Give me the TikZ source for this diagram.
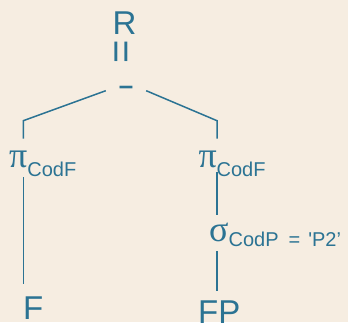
\documentclass[tikz,border=0pt]{standalone}
\usepackage{fontspec}
\setmainfont{Liberation Sans}
\newfontfamily\grkfont{Liberation Serif}
\usepackage{tikz}
\usepackage{xcolor}
\usetikzlibrary{calc}

\definecolor{paper}{HTML}{F6EDE1}
\definecolor{ink}{HTML}{2B7393}

\newcommand{\bigf}{\fontsize{33}{33}\selectfont}
\newcommand{\subf}{\fontsize{20}{20}\selectfont}
\newcommand{\grk}[1]{{\grkfont\fontsize{36}{36}\selectfont #1}}

\tikzset{
	lbl/.style={inner sep=0pt, text=ink, font=\bigf},
	tree/.style={draw=ink, line width=1.5pt}
}

\begin{document}
\begin{tikzpicture}[x=1pt,y=-1pt]
	\fill[paper] (0,0) rectangle (348,322);
	\useasboundingbox (0,0) rectangle (348,322);
	\node[lbl, anchor=base] (R) at (124.5,34) {R};
	\node[lbl, rotate=90, font=\fontsize{40}{40}\selectfont] (eq) at (125,51.7) {=};
	\node[lbl, minimum width=40pt, minimum height=6pt, font=\bfseries\fontsize{26}{26}\selectfont] (minus) at (126,87.5) {\smash{\raisebox{-7.15pt}{–}}};
	\node[lbl, anchor=base west] (piF) at (9,167) {\grk{π}\raisebox{-9pt}{\subf CodF}};
	\node[lbl, anchor=base west] (piFP) at (198.3,167) {\grk{π}\raisebox{-9pt}{\subf CodF}};
	\node[lbl, anchor=base west] (sigP) at (209,241.7) {\grk{σ}\raisebox{-5pt}{\subf CodP\hspace{10pt}=\hspace{8pt}\textquotesingle P2’}};
	\node[lbl, anchor=base west] (F) at (23,319) {F};
	\node[lbl, anchor=base west] (FP) at (198,323) {FP};
	\coordinate (lk) at (23.3,120.7);	% left knee
	\coordinate (rk) at (217,120.7);	% right knee
	\draw[tree, shorten >=11.6pt] (minus.south west) -- (lk) -- (lk |- piF.north);
	\draw[tree, shorten >=11.6pt] (minus.south east) -- (rk) -- (rk |- piFP.north);
	\draw[tree, shorten <=0.7pt, shorten >=12pt] (piF.south -| lk) -- (F.north -| lk);
	\draw[tree, shorten <=-4pt, shorten >=7.7pt] (piFP.south -| rk) -- (sigP.north -| rk);
	\draw[tree, shorten <=4pt, shorten >=9.4pt] (sigP.south -| rk) -- (FP.north -| rk);
\end{tikzpicture}
\end{document}
